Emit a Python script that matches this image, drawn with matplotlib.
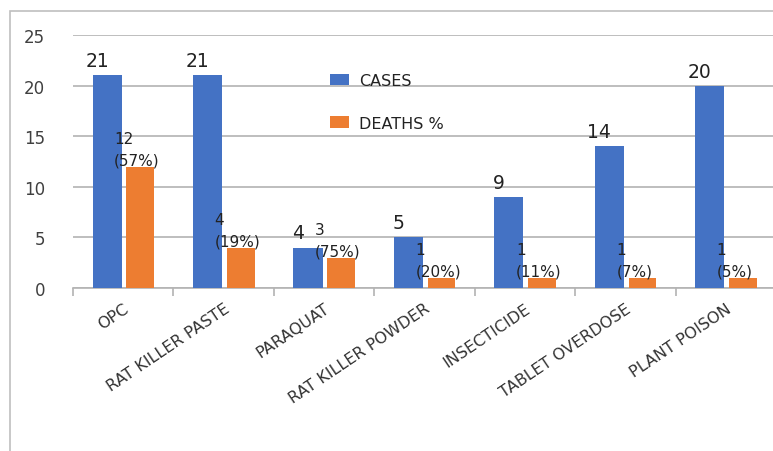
import matplotlib.pyplot as plt
import matplotlib.transforms as mtransforms
import numpy as np
from matplotlib.patches import Rectangle

categories = ['OPC', 'RAT KILLER PASTE', 'PARAQUAT', 'RAT KILLER POWDER',
              'INSECTICIDE', 'TABLET OVERDOSE', 'PLANT POISON']
cases = [21, 21, 4, 5, 9, 14, 20]
deaths = [12, 4, 3, 1, 1, 1, 1]
death_pct = ['57%', '19%', '75%', '20%', '11%', '7%', '5%']

blue = '#4472C4'
orange = '#ED7D31'
txt = '#404040'
grid = '#b3b3b3'

fig = plt.figure(figsize=(7.73, 4.52), dpi=100)
ax = fig.add_axes([73 / 773, 1 - 289 / 452, 703 / 773, 253 / 452])

# chart frame (left and top edges visible)
fig.patches.append(Rectangle((10 / 773, -0.1), 1.2, 1 - 12 / 452 + 0.1,
                             transform=fig.transFigure, fill=False,
                             edgecolor='#bfbfbf', linewidth=1.2))

x = np.arange(len(categories))
w = 0.29
ax.bar(x - 0.16, cases, w, color=blue, label='CASES', zorder=3)
ax.bar(x + 0.17, deaths, w * 0.95, color=orange, label='DEATHS %', zorder=3)

for i, v in enumerate(cases):
    ax.text(x[i] - 0.26, v + 0.5, str(v), ha='center', va='bottom',
            fontsize=13.5, color='#222222', zorder=4)
for i, v in enumerate(deaths):
    ax.text(x[i] - 0.09, v - 0.05, f'{v}\n({death_pct[i]})',
            ha='left', va='bottom', fontsize=11, color='#222222',
            linespacing=1.5, zorder=4)

ax.set_xlim(-0.5, 6.5)
ax.set_ylim(0, 25)
ax.set_yticks(range(0, 26, 5))
ax.yaxis.grid(True, color=grid, linewidth=1.2, zorder=0)
ax.tick_params(axis='y', length=0, labelsize=12, labelcolor=txt, pad=20)

ax.set_xticks(x)
ax.set_xticklabels(categories, rotation=34, ha='right', va='top',
                   rotation_mode='anchor', fontsize=11.5, color='#333333')
# nudge the slanted labels a little to the right of each category centre
shift = mtransforms.ScaledTranslation(6 / 72, 0, fig.dpi_scale_trans)
for lab in ax.get_xticklabels():
    lab.set_transform(lab.get_transform() + shift)
ax.set_xticks(np.arange(-0.5, 7, 1), minor=True)
ax.tick_params(axis='x', which='major', length=0, pad=9)
ax.tick_params(axis='x', which='minor', length=6, color=grid, width=1.2)

for s in ['top', 'right', 'left']:
    ax.spines[s].set_visible(False)
ax.spines['bottom'].set_color(grid)
ax.spines['bottom'].set_linewidth(1.2)

ax.legend(loc='upper left', bbox_to_anchor=(0.345, 0.905), frameon=False,
          fontsize=11.5, handlelength=1.2, handleheight=0.7,
          labelspacing=1.7, handletextpad=0.6, labelcolor='#222222')

fig.savefig('out.png', dpi=100)
